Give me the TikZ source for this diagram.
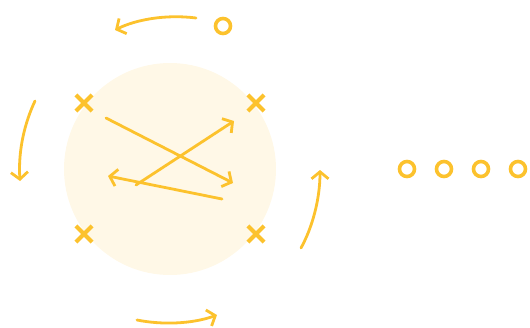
\documentclass[tikz,border=0pt]{standalone}
\usetikzlibrary{arrows.meta,shapes.misc}
\definecolor{gold}{HTML}{FCC22D}
\definecolor{pale}{HTML}{FFF8E7}
\tikzset{
  ring/.style={circle,draw=gold,line width=3.6pt,minimum size=15pt,inner sep=0pt},
  xmark/.style={cross out,draw=gold,line width=4.2pt,minimum size=12pt,inner sep=0pt},
  arr/.style={draw=gold,line width=2.8pt,line cap=round,-{Straight Barb[length=7pt,width=17pt,line width=2.8pt]}},
}
\begin{document}
\begin{tikzpicture}[x=1pt,y=-1pt]
\useasboundingbox (0,0) rectangle (530,327);
\node[circle,fill=pale,minimum size=212pt,inner sep=0pt] (bg) at (170,169) {};
\node[ring] (top) at (223,26) {};
\node[ring] (d1) at (407,169) {};
\node[ring] (d2) at (444,169) {};
\node[ring] (d3) at (481,169) {};
\node[ring] (d4) at (518,169) {};
\node[xmark] (x1) at (84,103) {};
\node[xmark] (x2) at (256,103) {};
\node[xmark] (x3) at (84,234) {};
\node[xmark] (x4) at (256,234) {};
\coordinate (ta) at (196,18);
\coordinate (tb) at (115,30);
\coordinate (la) at (35,101);
\coordinate (lb) at (20,181);
\coordinate (ba) at (137,320);
\coordinate (bb) at (217,315);
\coordinate (ra) at (301,248);
\coordinate (rb) at (320,170);
\coordinate (i1a) at (106,118);
\coordinate (i1b) at (233,183);
\coordinate (i2a) at (136,185);
\coordinate (i2b) at (234,121);
\coordinate (i3a) at (222,199);
\coordinate (i3b) at (108,176);
\draw[arr] (ta) .. controls (165,14) and (135,20) .. (tb);
\draw[arr] (la) .. controls (25,122) and (18,150) .. (lb);
\draw[arr] (ba) .. controls (162,325) and (192,324) .. (bb);
\draw[arr] (ra) .. controls (312,228) and (320,200) .. (rb);
\draw[arr] (i1a) -- (i1b);
\draw[arr] (i2a) -- (i2b);
\draw[arr] (i3a) -- (i3b);
\end{tikzpicture}
\end{document}
